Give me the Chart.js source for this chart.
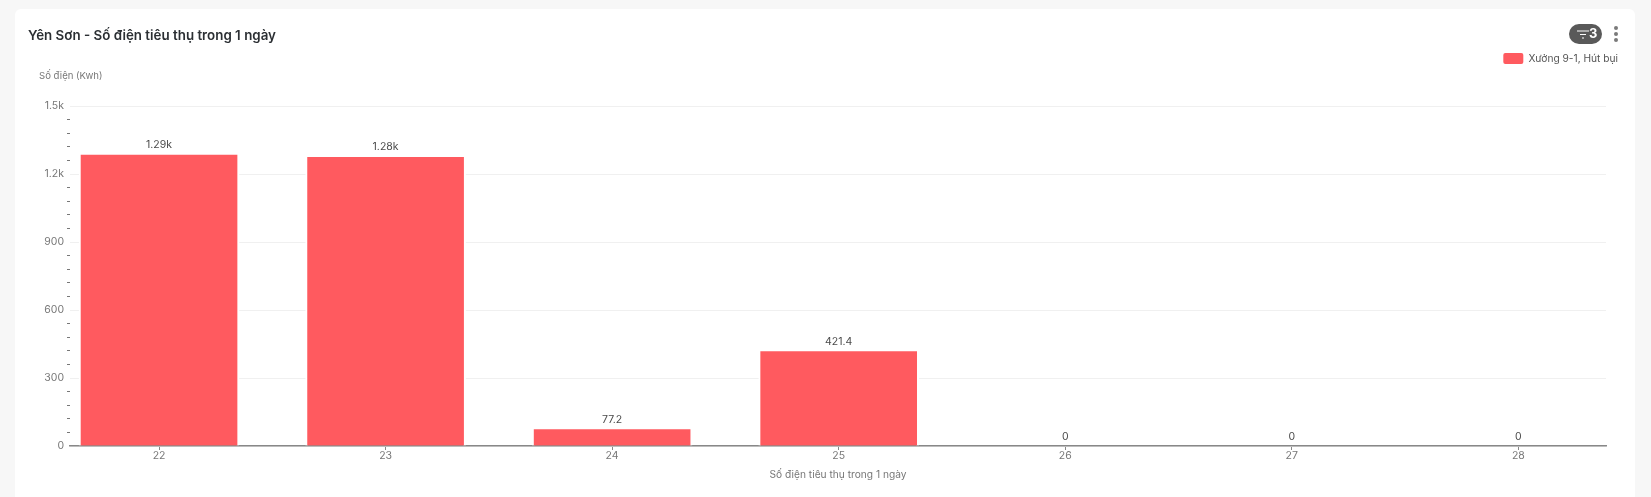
<!DOCTYPE html>
<html>
<head>
<meta charset="utf-8">
<style>
  html, body { margin: 0; padding: 0; background: #f7f7f7; overflow: hidden; }
  body { width: 1651px; height: 497px; position: relative; font-family: Inter, sans-serif; }
  .card { position: absolute; left: 15px; top: 9px; width: 1620px; height: 500px; background: #fff; border-radius: 6px; }
  .heading { position: absolute; left: 28px; top: 27px; font-size: 13.35px; font-weight: 600; line-height: 16px; color: #2b2f33; }
  .badge { position: absolute; left: 1569px; top: 24px; width: 33px; height: 20px; border-radius: 10px; background: #595959; color: #fff; font-size: 13px; font-weight: 700; line-height: 20px; }
  .badge svg { position: absolute; left: 8px; top: 6px; }
  .badge span { position: absolute; left: 20px; top: -1px; }
  .dots { position: absolute; left: 1614px; top: 26px; width: 4px; }
  .dots i { display: block; width: 4px; height: 4px; border-radius: 2px; background: #7a7a7a; margin-bottom: 2px; }
  canvas { position: absolute; left: 0; top: 0; }
</style>
</head>
<body>
<div class="card"></div>
<canvas id="chart" width="1651" height="497"></canvas>
<div class="heading">Yên Sơn - Số điện tiêu thụ trong 1 ngày</div>
<div class="badge">
  <svg width="12" height="9" viewBox="0 0 12 9"><path d="M0 1h12M3 4.5h6M5 8h2" stroke="#fff" stroke-width="1" fill="none"/></svg>
  <span>3</span>
</div>
<div class="dots"><i></i><i></i><i></i></div>

<script src="https://cdn.jsdelivr.net/npm/chart.js@4/dist/chart.umd.min.js"></script>
<script>
const categories = [22, 23, 24, 25, 26, 27, 28];
const values = [1288, 1278, 77.2, 421.4, 0, 0, 0];
const valueLabels = ['1.29k', '1.28k', '77.2', '421.4', '0', '0', '0'];
const seriesName = 'Xưởng 9-1, Hút bụi';
const yTitle = 'Số điện (Kwh)';
const xTitle = 'Số điện tiêu thụ trong 1 ngày';
const majorTicks = { 0: '0', 300: '300', 600: '600', 900: '900', 1200: '1.2k', 1500: '1.5k' };

const fontFamily = 'Inter, sans-serif';
const isMajor = v => majorTicks[v] !== undefined;

// value labels above each bar, legend nudged back down after layout
const barLabels = {
  id: 'barLabels',
  afterLayout(chart) {
    chart.legend.top += 4;
  },
  afterDatasetsDraw(chart) {
    const ctx = chart.ctx;
    ctx.save();
    ctx.font = '10.5px ' + fontFamily;
    ctx.fillStyle = '#4a4a4a';
    ctx.textAlign = 'center';
    ctx.textBaseline = 'middle';
    chart.getDatasetMeta(0).data.forEach((bar, i) => {
      ctx.fillText(valueLabels[i], bar.x, bar.y - 9);
    });
    ctx.restore();
  }
};

new Chart(document.getElementById('chart'), {
  type: 'bar',
  data: {
    datasets: [{
      label: seriesName,
      data: categories.map((c, i) => ({ x: c, y: values[i] })),
      backgroundColor: '#ff5a5f',
      borderColor: '#ffffff',
      borderWidth: { left: 2, right: 2, top: 1, bottom: 0 },
      borderSkipped: false,
      barThickness: 160
    }]
  },
  options: {
    responsive: false,
    animation: false,
    layout: { padding: { left: 39, right: 33, top: 49, bottom: 16 } },
    plugins: {
      tooltip: { enabled: false },
      legend: {
        position: 'top',
        align: 'end',
        labels: {
          boxWidth: 20,
          boxHeight: 11,
          padding: 0,
          color: '#555',
          font: { family: fontFamily, size: 10.2 },
          useBorderRadius: true,
          borderRadius: 2,
          generateLabels: () => [{ text: seriesName, fillStyle: '#ff5a5f', strokeStyle: '#ff5a5f', lineWidth: 0, fontColor: '#555', borderRadius: 2 }]
        }
      },
      title: {
        display: true,
        text: yTitle,
        align: 'start',
        weight: 500,
        color: '#777',
        font: { family: fontFamily, size: 9.6, weight: 'normal' },
        padding: { top: 0, bottom: 24.5 }
      }
    },
    scales: {
      x: {
        type: 'linear',
        offset: false,
        min: 21.607,
        max: 28.387,
        afterBuildTicks: scale => { scale.ticks = categories.map(c => ({ value: c })); },
        afterFit: scale => { scale.height = 35; },
        grid: { offset: false, drawOnChartArea: false, tickLength: 4, tickColor: '#888' },
        border: { color: '#888', width: 1.5 },
        ticks: {
          color: '#777',
          padding: 0,
          maxRotation: 0,
          autoSkip: false,
          font: { family: fontFamily, size: 10.5 },
          callback: v => String(v)
        },
        title: {
          display: true,
          text: xTitle,
          color: '#777',
          font: { family: fontFamily, size: 10.2 },
          padding: { top: 3, bottom: 0 }
        }
      },
      y: {
        min: 0,
        max: 1500,
        afterFit: scale => { scale.width = 31; },
        grid: {
          drawTicks: true,
          tickLength: 3,
          color: c => isMajor(c.tick.value) ? '#f0f0f0' : 'transparent',
          tickColor: c => isMajor(c.tick.value) ? 'transparent' : '#777'
        },
        border: { display: false },
        ticks: {
          stepSize: 60,
          autoSkip: false,
          padding: 3,
          color: '#777',
          font: { family: fontFamily, size: 10.5 },
          callback: v => isMajor(v) ? majorTicks[v] : ''
        }
      },
      spacer: {
        position: 'right',
        display: true,
        afterFit: scale => { scale.width = 12; },
        grid: { display: false },
        border: { display: false },
        ticks: { display: false }
      }
    }
  },
  plugins: [barLabels]
});
</script>
</body>
</html>
